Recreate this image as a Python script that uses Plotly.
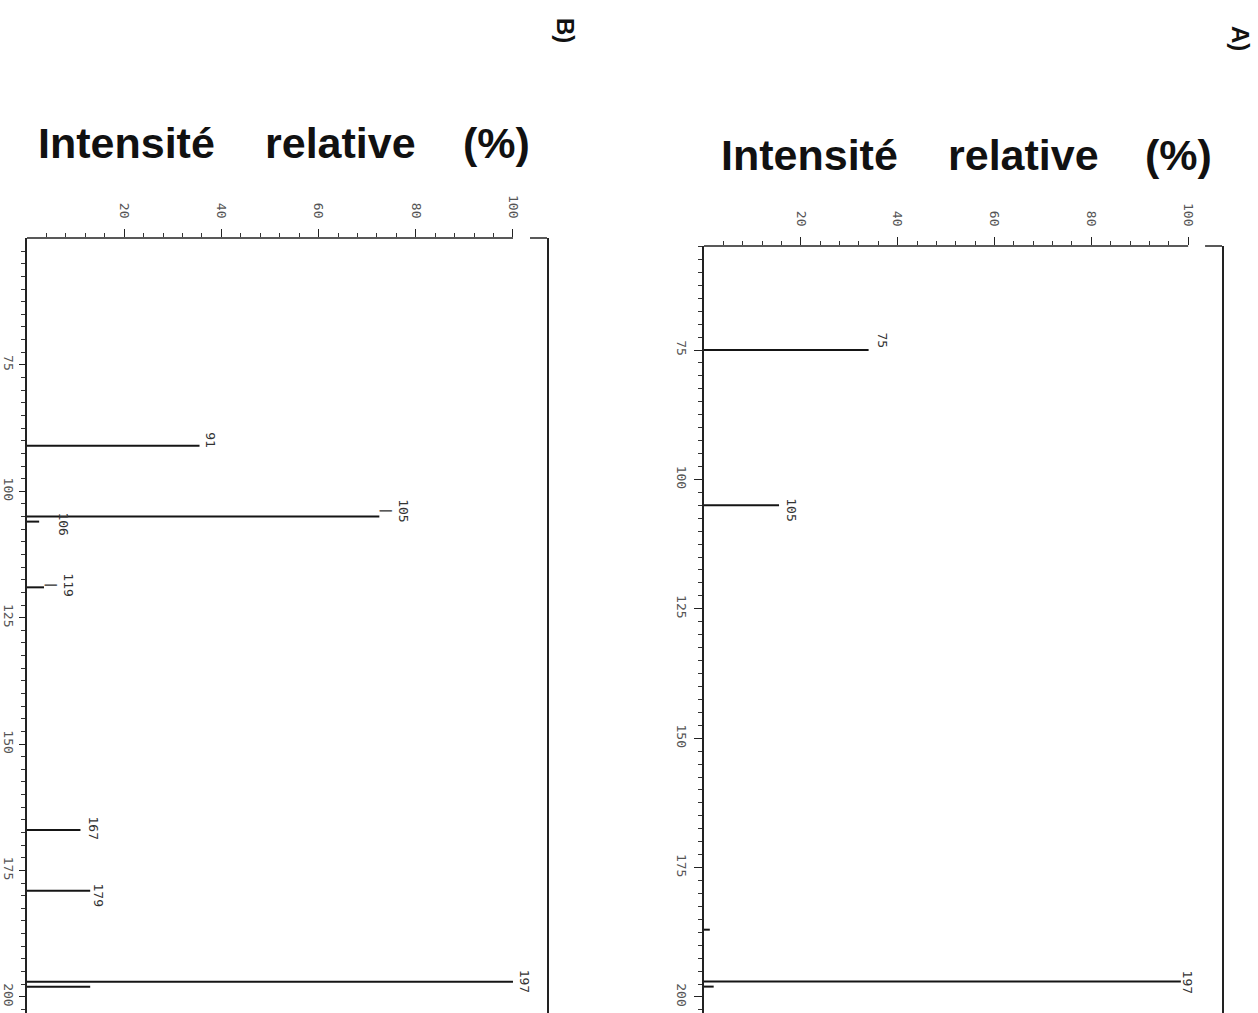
import plotly.graph_objects as go

# ---------------- data ----------------
# Panel A (right-hand spectrum)
mz_a = [75, 105, 187, 197, 198]
int_a = [34, 15.5, 1.2, 98.5, 2]
lab_a_mz = [75, 105, 197]
lab_a_int = [34, 15.5, 98.5]
lab_a_txt = ["75", "105", "197"]

# Panel B (left-hand spectrum)
mz_b = [91, 105, 106, 119, 167, 179, 197, 198]
int_b = [35.5, 72.5, 2.5, 3.5, 11, 13, 100, 13]
lab_b_mz = [91, 105, 106, 119, 167, 179, 197]
lab_b_int = [35.5, 72.5, 2.5, 3.5, 11, 13, 100]
lab_b_txt = ["91", "105<br>|", "106", "119<br>|", "167", "179", "197"]

int_ticks = [20, 40, 60, 80, 100]
mz_ticks = [75, 100, 125, 150, 175, 200]

title_words = ["Intensité", "relative", "(%)"]

# ---------------- figure ----------------
W, H = 1258, 1013
fig = go.Figure()


def sticks(mz, inten):
    xs, ys = [], []
    for m, i in zip(mz, inten):
        xs += [0, i, None]
        ys += [m, m, None]
    return xs, ys


xb, yb = sticks(mz_b, int_b)
xa, ya = sticks(mz_a, int_a)
line_style = dict(color="#151515", width=2)
fig.add_trace(go.Scatter(x=xb, y=yb, mode="lines", line=line_style,
                         xaxis="x", yaxis="y", hoverinfo="skip", showlegend=False))
fig.add_trace(go.Scatter(x=xa, y=ya, mode="lines", line=line_style,
                         xaxis="x2", yaxis="y2", hoverinfo="skip", showlegend=False))

tick_font = dict(family="DejaVu Sans Mono", size=13, color="#555")
minor_int = [v for v in range(4, 100, 4) if v % 20 != 0]
minor_mz = [52.5 + 2.5 * k for k in range(61) if (52.5 + 2.5 * k) % 25 != 0]


def xaxis_cfg(domain, anchor):
    return dict(domain=domain, anchor=anchor, range=[0, 107], side="top",
                automargin=False,
                showline=False, showgrid=False, zeroline=False,
                ticks="outside", ticklen=8, tickwidth=1, tickcolor="#222",
                tickangle=90, tickmode="array", tickvals=int_ticks,
                tickfont=tick_font, ticklabelstandoff=6,
                minor=dict(tickmode="array", tickvals=minor_int, ticks="outside",
                           ticklen=4, tickwidth=1, tickcolor="#333", showgrid=False))


def yaxis_cfg(domain, anchor, rng, tlen, standoff):
    return dict(domain=domain, anchor=anchor, range=rng,
                automargin=False,
                showline=True, linecolor="#222", linewidth=1.5, mirror=True,
                showgrid=False, zeroline=False,
                ticks="outside", ticklen=tlen, tickwidth=1, tickcolor="#222",
                tickangle=90, tickmode="array", tickvals=mz_ticks,
                tickfont=tick_font, ticklabelstandoff=standoff,
                minor=dict(tickmode="array", tickvals=minor_mz, ticks="outside",
                           ticklen=4, tickwidth=1, tickcolor="#333", showgrid=False))


fig.update_layout(
    width=W, height=H,
    margin=dict(l=0, r=0, t=0, b=0, autoexpand=False),
    paper_bgcolor="white", plot_bgcolor="white",
    xaxis=xaxis_cfg([27 / W, 547 / W], "y"),
    yaxis=yaxis_cfg([0, 1 - 238 / H], "x", [203.2, 49.9], 6, 0),
    xaxis2=xaxis_cfg([704 / W, 1222 / W], "y2"),
    yaxis2=yaxis_cfg([0, 1 - 246 / H], "x2", [203.1, 54.9], 8, 2),
)

# intensity axis line (0..100) and little stub near the right frame
shapes = []
for xr, yr in (("x", "y domain"), ("x2", "y2 domain")):
    shapes.append(dict(type="line", xref=xr, yref=yr, x0=0, x1=100, y0=1, y1=1,
                       line=dict(color="#222", width=1.5)))
    shapes.append(dict(type="line", xref=xr, yref=yr, x0=103.5, x1=107, y0=1, y1=1,
                       line=dict(color="#222", width=1.5)))
fig.update_layout(shapes=shapes)

ann = []
lab_font = dict(family="DejaVu Sans Mono", size=13, color="#333")
shift_a = {"75": (14, 10), "105": (13, -4), "197": (7, -1)}
for m, i, t in zip(lab_a_mz, lab_a_int, lab_a_txt):
    dx, dy = shift_a.get(t, (12, 0))
    ann.append(dict(x=i, y=m, xref="x2", yref="y2", text=t, showarrow=False,
                    textangle=90, font=lab_font, xanchor="center", yanchor="middle",
                    xshift=dx, yshift=dy))
shift_b = {"91": (11, 6), "105<br>|": (16, 6), "106": (24, -2), "119<br>|": (16, 3),
           "167": (13, 2), "179": (8, -4), "197": (11, 0)}
for m, i, t in zip(lab_b_mz, lab_b_int, lab_b_txt):
    dx, dy = shift_b.get(t, (12, 0))
    ann.append(dict(x=i, y=m, xref="x", yref="y", text=t, showarrow=False,
                    textangle=90, font=lab_font, xanchor="center", yanchor="middle",
                    xshift=dx, yshift=dy))

# axis titles (upright, bold)
title_font = dict(family="Liberation Sans", size=43, color="#111")
for cx, word in zip([809, 1023, 1178], title_words):
    ann.append(dict(x=cx / W, y=1 - 155.5 / H, xref="paper", yref="paper", text="<b>%s</b>" % word,
                    showarrow=False, font=title_font, xanchor="center", yanchor="middle"))
for cx, word in zip([126, 340, 496], title_words):
    ann.append(dict(x=cx / W, y=1 - 143 / H, xref="paper", yref="paper", text="<b>%s</b>" % word,
                    showarrow=False, font=title_font, xanchor="center", yanchor="middle"))

# panel letters (rotated)
panel_font = dict(family="Liberation Sans", size=24, color="#111")
ann.append(dict(x=1240 / W, y=1 - 38 / H, xref="paper", yref="paper", text="<b>A)</b>",
                showarrow=False, textangle=90, font=panel_font, xanchor="center", yanchor="middle"))
ann.append(dict(x=565 / W, y=1 - 30 / H, xref="paper", yref="paper", text="<b>B)</b>",
                showarrow=False, textangle=90, font=panel_font, xanchor="center", yanchor="middle"))

fig.update_layout(annotations=ann)
fig.write_html("out.html")
